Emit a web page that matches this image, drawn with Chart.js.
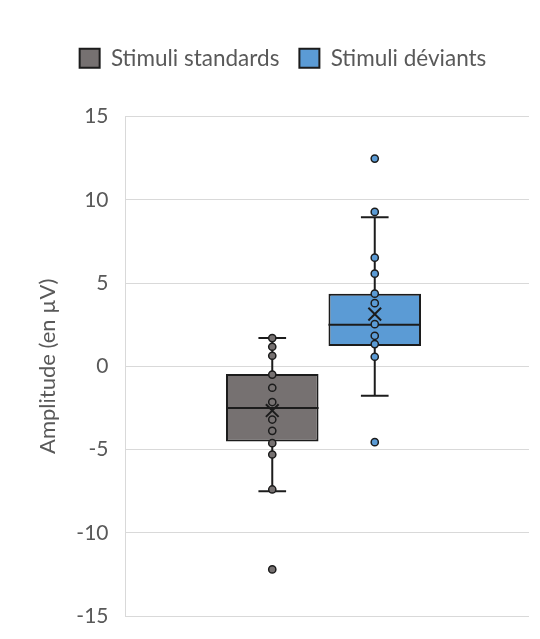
<!DOCTYPE html>
<html>
<head>
<meta charset="utf-8">
<script src="https://cdn.jsdelivr.net/npm/chart.js@4"></script>
<style>
  html, body { margin: 0; padding: 0; background: #ffffff; }
  #wrap { width: 540px; height: 639px; position: relative; }
</style>
</head>
<body>
<div id="wrap"><canvas id="c" width="540" height="639"></canvas></div>
<script>
// ---- data ----
const categories = ['Stimuli standards', 'Stimuli déviants'];
const groupX = [1, 2];
const q1 = [-4.52, 1.21];
const q3 = [-0.47, 4.36];
const medians = [-2.50, 2.49];
const means = [-2.66, 3.13];
const whiskerLow = [-7.50, -1.77];
const whiskerHigh = [1.69, 8.95];
const pointsStandards = [1.69, 1.17, 0.63, -0.50, -1.29, -2.15, -3.20, -3.88, -4.62, -5.30, -7.40, -12.20];
const pointsDeviants = [12.47, 9.27, 6.52, 5.56, 4.36, 3.79, 2.53, 1.83, 1.33, 0.57, -4.56];
const yTicks = [-15, -10, -5, 0, 5, 10, 15];

// ---- styles ----
const fillColors = ['#767171', '#5B9BD5'];
const edge = '#1c1c1c';
const textColor = '#595959';
const FONT = 'Lato, "Open Sans", sans-serif';
const BOX_HALF = 0.4515;   // half box width, x units
const CAP_HALF = 0.135;    // half whisker cap width, x units

// ---- build datasets ----
const boxData = groupX.map((x, i) => ({ x: x, y: [q1[i], q3[i]] }));
const medianData = [];
groupX.forEach((x, i) => {
  medianData.push({ x: x - BOX_HALF, y: medians[i] }, { x: x + BOX_HALF, y: medians[i] }, { x: x, y: null });
});
const whiskerData = [];
groupX.forEach((x, i) => {
  whiskerData.push({ x: x, y: whiskerLow[i] }, { x: x, y: whiskerHigh[i] }, { x: x, y: null });
  whiskerData.push({ x: x - CAP_HALF, y: whiskerLow[i] }, { x: x + CAP_HALF, y: whiskerLow[i] }, { x: x, y: null });
  whiskerData.push({ x: x - CAP_HALF, y: whiskerHigh[i] }, { x: x + CAP_HALF, y: whiskerHigh[i] }, { x: x, y: null });
});
const pointSets = [pointsStandards, pointsDeviants];

const datasets = [
  {
    type: 'bar', label: 'boxes', data: boxData,
    backgroundColor: fillColors, borderColor: edge, borderWidth: 2, borderSkipped: false,
    barPercentage: 0.903, categoryPercentage: 1, order: 4
  },
  {
    type: 'line', label: 'whiskers', data: whiskerData, spanGaps: false,
    borderColor: edge, borderWidth: 2, pointRadius: 0, fill: false, order: 5
  },
  {
    type: 'line', label: 'medians', data: medianData, spanGaps: false,
    borderColor: edge, borderWidth: 2, pointRadius: 0, fill: false, order: 3
  }
];
pointSets.forEach((pts, i) => {
  datasets.push({
    type: 'scatter', label: 'points' + i,
    data: pts.map(v => ({ x: groupX[i], y: v })),
    backgroundColor: fillColors[i], borderColor: edge, borderWidth: 1.5,
    pointRadius: 3.6, order: 2
  });
});
datasets.push({
  type: 'scatter', label: 'means',
  data: groupX.map((x, i) => ({ x: x, y: means[i] })),
  pointStyle: 'crossRot', borderColor: edge, borderWidth: 2, pointRadius: 9, order: 1
});

const legendSpacer = {
  id: 'legendSpacer',
  beforeInit(chart) {
    const orig = chart.legend.fit;
    chart.legend.fit = function () { orig.call(this); this.height += 37; };
  }
};

new Chart(document.getElementById('c'), {
  data: { datasets: datasets },
  plugins: [legendSpacer],
  options: {
    responsive: false,
    animation: false,
    layout: { padding: { top: 27, right: 9, bottom: 23, left: 35 } },
    plugins: {
      tooltip: { enabled: false },
      legend: {
        position: 'top',
        labels: {
          font: { family: FONT, size: 22.5 },
          color: textColor,
          boxWidth: 20, boxHeight: 19,
          padding: 20,
          generateLabels: () => categories.map((c, i) => ({
            text: c, fillStyle: fillColors[i], strokeStyle: edge, lineWidth: 2,
            hidden: false, datasetIndex: 0, fontColor: textColor
          }))
        },
        onClick: () => {}
      }
    },
    scales: {
      x: {
        type: 'linear', min: -0.432, max: 3.505, display: false, offset: false,
        afterBuildTicks: (s) => { s.ticks = groupX.map(v => ({ value: v })); }
      },
      y: {
        type: 'linear', min: -15, max: 15,
        afterFit: (s) => { s.width = 90.5; s.paddingTop = 0; s.paddingBottom = 0; },
        afterBuildTicks: (s) => { s.ticks = yTicks.map(v => ({ value: v })); },
        ticks: { color: textColor, font: { family: FONT, size: 21 }, padding: 17 },
        grid: { color: '#d9d9d9', lineWidth: 1, drawTicks: false },
        border: { display: true, color: '#d9d9d9', width: 1 },
        title: {
          display: true, text: 'Amplitude (en µV)', color: textColor,
          font: { family: FONT, size: 22 }, padding: { top: 0, bottom: 0 }
        }
      }
    }
  }
});
</script>
</body>
</html>
